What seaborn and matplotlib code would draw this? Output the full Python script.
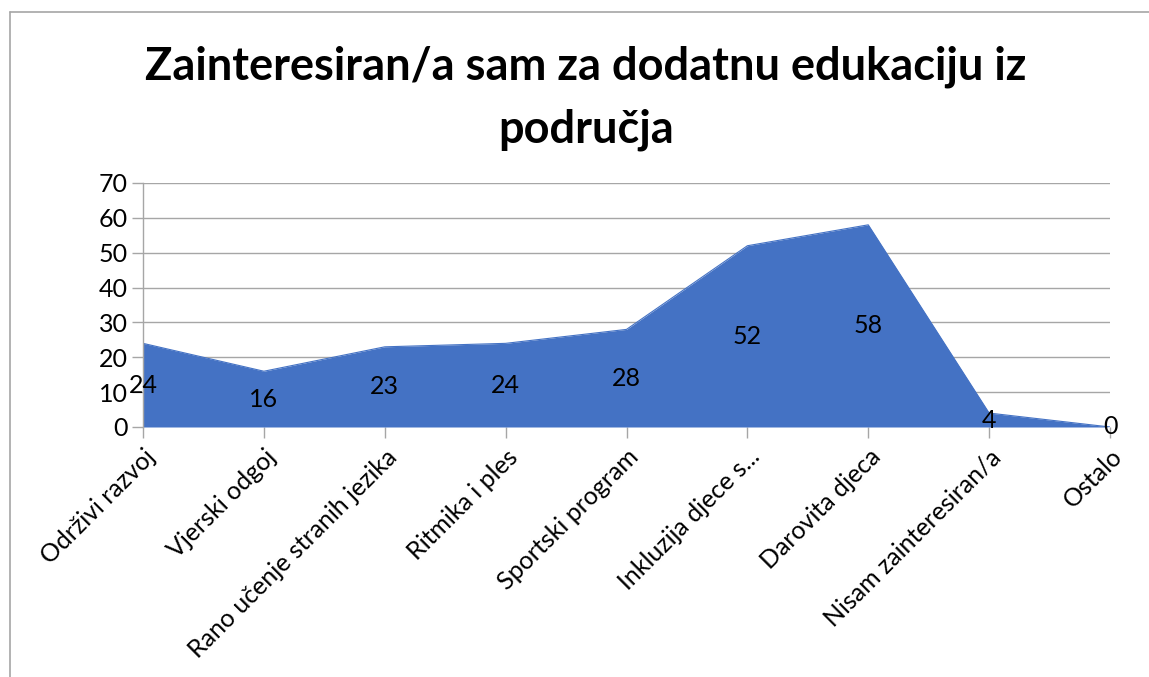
import numpy as np
import pandas as pd
import seaborn as sns
import matplotlib.pyplot as plt
from matplotlib.lines import Line2D


# 데이터
categories = [
    "Održivi razvoj",
    "Vjerski odgoj",
    "Rano učenje stranih jezika",
    "Ritmika i ples",
    "Sportski program",
    "Inkluzija djece s...",
    "Darovita djeca",
    "Nisam zainteresiran/a",
    "Ostalo",
]
counts = [24, 16, 23, 24, 28, 52, 58, 4, 0]
y_ticks = [0, 10, 20, 30, 40, 50, 60, 70]

df = pd.DataFrame({"pos": np.arange(len(categories)), "count": counts})


sns.set_theme(style="white")
plt.rcParams["font.family"] = ["Lato", "DejaVu Sans"]
plt.rcParams["text.color"] = "black"
plt.rcParams["xtick.color"] = "black"
plt.rcParams["ytick.color"] = "black"

W, H = 1149, 677
fig = plt.figure(figsize=(W / 100, H / 100), dpi=100)
ax = fig.add_axes([143 / W, 1 - 427 / H, (1110 - 143) / W, (427 - 183) / H])

blue = "#4472C4"
grid_c = "#a6a6a6"

ax.fill_between(df["pos"], 0, df["count"], color=blue, linewidth=0, zorder=2)
sns.lineplot(data=df, x="pos", y="count", color=blue, linewidth=0.8, ax=ax, zorder=2)

ax.set_xlim(0, len(categories) - 1)
ax.set_ylim(0, 70)
ax.set_yticks(y_ticks)
ax.set_yticklabels([str(v) for v in y_ticks], fontsize=18)
ax.set_xticks(df["pos"])
ax.set_xticklabels(categories, rotation=45, ha="right", rotation_mode="anchor",
                   fontsize=18)
ax.set_xlabel("")
ax.set_ylabel("")

ax.yaxis.grid(True, color=grid_c, linewidth=1)
ax.xaxis.grid(False)
ax.set_axisbelow(True)
for side in ["top", "right", "bottom"]:
    ax.spines[side].set_visible(False)
ax.spines["left"].set_color(grid_c)
ax.spines["left"].set_linewidth(1)
ax.axhline(0, color=grid_c, linewidth=1, zorder=1)

ax.tick_params(axis="y", length=8, width=1, color=grid_c, pad=3, left=True,
               labelcolor="black")
ax.tick_params(axis="x", length=8, width=1, color=grid_c, pad=5, bottom=True,
               labelcolor="black")


# 값 표시 (영역 중간)
for i, v in enumerate(counts):
    ax.text(i, v / 2, str(v), ha="center", va="center", fontsize=18,
            color="black", zorder=3)


fig.suptitle("Zainteresiran/a sam za dodatnu edukaciju iz\npodručja",
             x=586 / W, y=1 - 46 / H, va="top", fontsize=32.5, fontweight="bold",
             linespacing=1.6, color="black")

# 차트 테두리
fig.add_artist(Line2D([10 / W, 10 / W], [0, 1 - 12 / H], color="#a6a6a6",
                      linewidth=1.2, transform=fig.transFigure))
fig.add_artist(Line2D([10 / W, 1], [1 - 12 / H, 1 - 12 / H], color="#a6a6a6",
                      linewidth=1.2, transform=fig.transFigure))

fig.savefig("out.png", dpi=100)
plt.close()
